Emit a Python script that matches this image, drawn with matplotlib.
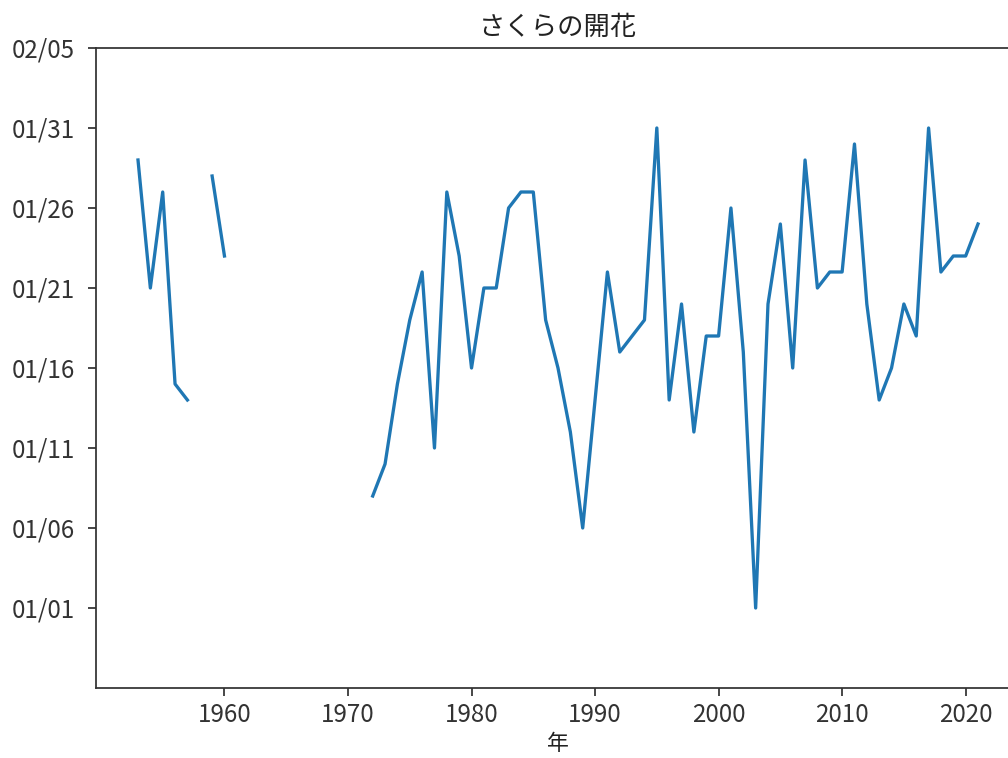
import numpy as np
import pandas as pd
import matplotlib
matplotlib.use('Agg')
import matplotlib.pyplot as plt
import matplotlib.dates as mdates

plt.rcParams['font.family'] = ['Noto Sans CJK JP', 'DejaVu Sans']

# data: year and flowering date (mm/dd), None = no record
years = list(range(1953, 2022))
bloom = ['01/29', '01/21', '01/27', '01/15', '01/14', None, '01/28', '01/23',
         None, None, None, None, None, None, None, None, None, None, None,
         '01/08', '01/10', '01/15', '01/19', '01/22', '01/11', '01/27', '01/23',
         '01/16', '01/21', '01/21', '01/26', '01/27', '01/27', '01/19', '01/16',
         '01/12', '01/06', '01/14', '01/22', '01/17', '01/18', '01/19', '01/31',
         '01/14', '01/20', '01/12', '01/18', '01/18', '01/26', '01/17', '01/01',
         '01/20', '01/25', '01/16', '01/29', '01/21', '01/22', '01/22', '01/30',
         '01/20', '01/14', '01/16', '01/20', '01/18', '01/31', '01/22', '01/23',
         '01/23', '01/25']
xticks = [1960, 1970, 1980, 1990, 2000, 2010, 2020]

title = 'さくらの開花'
xlabel = '年'

# put every date into one dummy season (Dec in 2000, Jan/Feb in 2001)
dates = pd.to_datetime(['2001/' + b if b else None for b in bloom])
ylim = (pd.Timestamp('2000-12-27'), pd.Timestamp('2001-02-05'))
yticks = pd.date_range('2001-01-01', '2001-02-05', freq='5D')

dpi = 158
fig = plt.figure(figsize=(1008 / dpi, 758 / dpi), dpi=dpi)
ax = fig.add_axes([96 / 1008, 70 / 758, 924 / 1008, 640 / 758])

ax.plot(years, dates, color='#1f77b4')

ax.set_xticks(xticks)
ax.set_ylim(ylim)
ax.set_yticks(yticks)
ax.yaxis.set_major_formatter(mdates.DateFormatter('%m/%d'))
ax.tick_params(labelsize=11, colors='#333333')
ax.tick_params(axis='y', pad=6)
ax.tick_params(axis='x', pad=3)
for s in ax.spines.values():
    s.set_color('#333333')
ax.set_title(title, color='#222222')
ax.set_xlabel(xlabel, color='#222222', labelpad=2)

fig.savefig('out.png', dpi=dpi)
